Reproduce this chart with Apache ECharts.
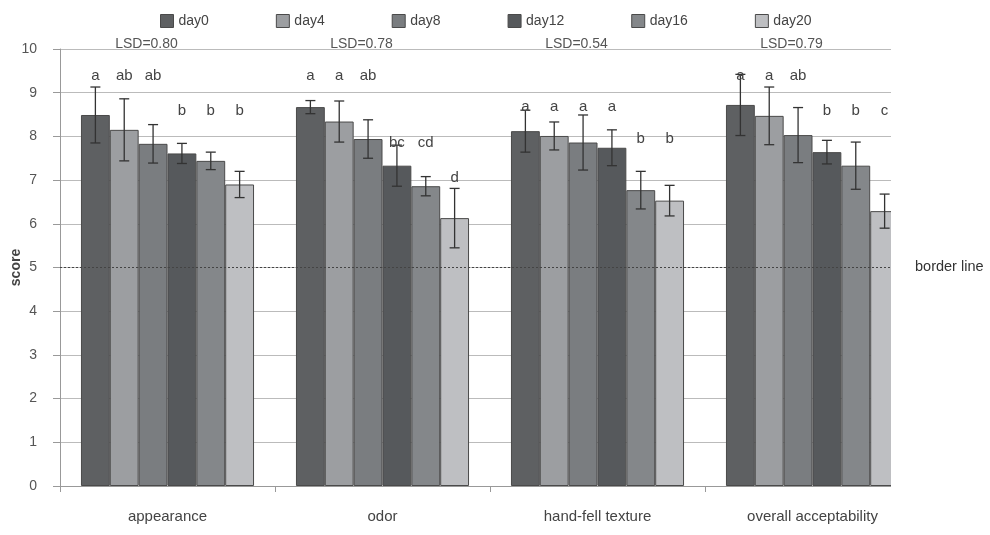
<!DOCTYPE html>
<html><head><meta charset="utf-8">
<script src="https://cdn.jsdelivr.net/npm/echarts@6/dist/echarts.min.js"></script>
<style>html,body{margin:0;padding:0;background:#fff}#c{width:990px;height:535px}</style>
</head><body><div id="c"></div>
<script>
var categories = ['appearance', 'odor', 'hand-fell texture', 'overall acceptability'];
var days = ['day0', 'day4', 'day8', 'day12', 'day16', 'day20'];
// mean scores per day, one value per category
var day0  = [8.49, 8.67, 8.12, 8.72];
var day4  = [8.15, 8.34, 8.01, 8.47];
var day8  = [7.83, 7.94, 7.86, 8.03];
var day12 = [7.61, 7.33, 7.74, 7.64];
var day16 = [7.44, 6.86, 6.77, 7.33];
var day20 = [6.90, 6.13, 6.53, 6.29];
// standard deviations (error bar half-lengths)
var sd0  = [0.64, 0.15, 0.48, 0.70];
var sd4  = [0.71, 0.47, 0.32, 0.66];
var sd8  = [0.44, 0.44, 0.63, 0.63];
var sd12 = [0.23, 0.47, 0.41, 0.27];
var sd16 = [0.20, 0.22, 0.43, 0.54];
var sd20 = [0.30, 0.68, 0.35, 0.39];
// significance letters per day, one per category
var let0  = ['a', 'a', 'a', 'a'];
var let4  = ['ab', 'a', 'a', 'a'];
var let8  = ['ab', 'ab', 'a', 'ab'];
var let12 = ['b', 'bc', 'a', 'b'];
var let16 = ['b', 'cd', 'b', 'b'];
var let20 = ['b', 'd', 'b', 'c'];
// score level at which each letter is written
var lev0  = [9.38, 9.38, 8.67, 9.38];
var lev4  = [9.38, 9.38, 8.67, 9.38];
var lev8  = [9.38, 9.38, 8.67, 9.38];
var lev12 = [8.58, 7.85, 8.67, 8.58];
var lev16 = [8.58, 7.85, 7.94, 8.58];
var lev20 = [8.58, 7.05, 7.94, 8.58];
var lsd = ['LSD=0.80', 'LSD=0.78', 'LSD=0.54', 'LSD=0.79'];
var yTicks = [0, 1, 2, 3, 4, 5, 6, 7, 8, 9, 10];
var borderValue = 5;
var borderLabel = 'border line';

var means = [day0, day4, day8, day12, day16, day20];
var sds = [sd0, sd4, sd8, sd12, sd16, sd20];
var letters = [let0, let4, let8, let12, let16, let20];
var levels = [lev0, lev4, lev8, lev12, lev16, lev20];
var colors = ['#5e6062', '#9c9ea1', '#7a7d80', '#56595c', '#84878a', '#bebfc2'];
var FONT = '"Liberation Sans", Arial, sans-serif';
var GAP = 0.195;

var chart = echarts.init(document.getElementById('c'));

var series = days.map(function (d, i) {
  var s = {
    name: d, type: 'bar', data: means[i],
    barGap: '0%', barCategoryGap: (GAP * 100) + '%',
    itemStyle: { color: colors[i], borderColor: '#4a4a4a', borderWidth: 1 },
    emphasis: { disabled: true }
  };
  if (i === 0) {
    s.markLine = {
      silent: true, symbol: 'none', label: { show: false },
      lineStyle: { type: [2, 2], color: '#444', width: 1 },
      data: [{ yAxis: borderValue }]
    };
  }
  return s;
});

var errData = [];
for (var i = 0; i < days.length; i++) {
  for (var c = 0; c < categories.length; c++) {
    errData.push([c, i, means[i][c] - sds[i][c], means[i][c] + sds[i][c], levels[i][c], letters[i][c]]);
  }
}

series.push({
  type: 'custom', name: 'err', z: 5, clip: false, silent: true,
  data: errData,
  encode: { x: 0, y: [2, 3] },
  renderItem: function (params, api) {
    var cat = api.value(0), day = api.value(1);
    var bw = api.size([1, 0])[0];
    var gw = bw * (1 - GAP);
    var barW = gw / 6;
    var cx = api.coord([cat, 0])[0] - gw / 2 + barW * (day + 0.5);
    var lo = api.coord([cat, api.value(2)])[1];
    var hi = api.coord([cat, api.value(3)])[1];
    var ly = api.coord([cat, api.value(4)])[1];
    var cap = 5;
    var st = { stroke: '#333', lineWidth: 1.3 };
    return {
      type: 'group', children: [
        { type: 'line', shape: { x1: cx, y1: lo, x2: cx, y2: hi }, style: st },
        { type: 'line', shape: { x1: cx - cap, y1: lo, x2: cx + cap, y2: lo }, style: st },
        { type: 'line', shape: { x1: cx - cap, y1: hi, x2: cx + cap, y2: hi }, style: st },
        { type: 'text', style: { x: cx, y: ly, text: errData[params.dataIndex][5], fill: '#444',
          font: '15px ' + FONT, textAlign: 'center', textVerticalAlign: 'middle' } }
      ]
    };
  }
});

series.push({
  type: 'custom', name: 'lsd', z: 5, clip: false, silent: true,
  data: lsd.map(function (t, c) { return [c, 10]; }),
  renderItem: function (params, api) {
    var p = api.coord([api.value(0), api.value(1)]);
    return { type: 'text', style: { x: p[0] - 21, y: p[1] + 2, text: lsd[params.dataIndex], fill: '#555',
      font: '14px ' + FONT, textAlign: 'center', textVerticalAlign: 'bottom' } };
  }
});

chart.setOption({
  animation: false,
  textStyle: { fontFamily: FONT },
  legend: {
    data: days, left: 155, top: 9, itemWidth: 13, itemHeight: 13, itemGap: 67,
    icon: 'rect', textStyle: { fontSize: 14, color: '#444', fontFamily: FONT },
    itemStyle: { borderColor: '#4a4a4a', borderWidth: 1 }
  },
  grid: { left: 60, right: 70, top: 49, bottom: 49, containLabel: false, outerBoundsMode: 'none' },
  xAxis: {
    type: 'category', data: categories,
    axisLine: { lineStyle: { color: '#999' } },
    axisTick: { show: true, length: 6, interval: 0, lineStyle: { color: '#999' } },
    axisLabel: { color: '#444', fontSize: 15, margin: 23, fontFamily: FONT }
  },
  yAxis: {
    type: 'value', min: yTicks[0], max: yTicks[yTicks.length - 1], interval: 1,
    name: 'score', nameLocation: 'middle', nameGap: 37, nameRotate: 90, nameMoveOverlap: false,
    nameTextStyle: { fontWeight: 'bold', fontSize: 14, color: '#444', fontFamily: FONT },
    axisLine: { show: true, lineStyle: { color: '#999' } },
    axisTick: { show: true, length: 7, lineStyle: { color: '#999' } },
    axisLabel: { color: '#555', fontSize: 14, margin: 23, fontFamily: FONT },
    splitLine: { lineStyle: { color: '#bbb' } }
  },
  graphic: [
    { type: 'rect', z: 100, shape: { x: 891, y: 35, width: 40, height: 465 }, style: { fill: '#fff' } },
    { type: 'text', z: 101, style: { x: 915, y: 267, text: borderLabel, fill: '#333',
      font: '14.5px ' + FONT, textVerticalAlign: 'middle' } }
  ],
  series: series
});
</script>
</body></html>
